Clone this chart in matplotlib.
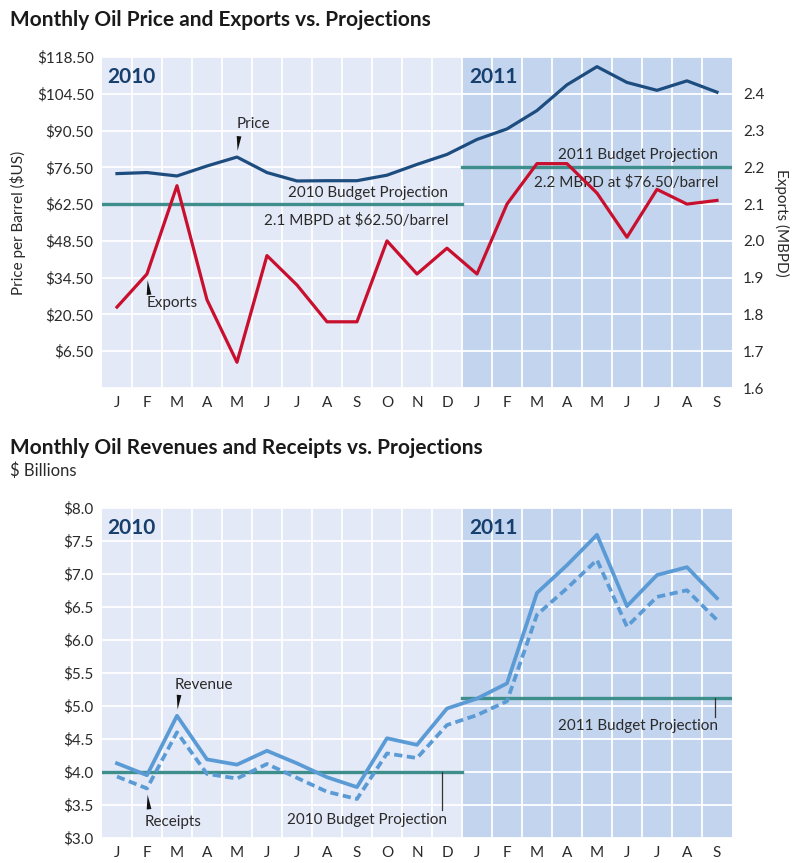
import matplotlib
matplotlib.use("Agg")
import matplotlib.pyplot as plt

plt.rcParams['font.family'] = ['Lato', 'DejaVu Sans']

months = ["J", "F", "M", "A", "M", "J", "J", "A", "S", "O", "N", "D",
          "J", "F", "M", "A", "M", "J", "J", "A", "S"]

price = [74.1, 74.5, 73.2, 77.0, 80.4, 74.5, 71.3, 71.4, 71.4, 73.5, 77.6, 81.4,
         87.1, 91.1, 98.1, 107.9, 114.8, 108.8, 105.8, 109.4, 105.1]
exports = [1.82, 1.91, 2.15, 1.84, 1.67, 1.96, 1.88, 1.78, 1.78, 2.00, 1.91, 1.98,
           1.91, 2.10, 2.21, 2.21, 2.13, 2.01, 2.14, 2.10, 2.11]

revenue = [4.13, 3.95, 4.85, 4.19, 4.11, 4.32, 4.13, 3.92, 3.77, 4.51, 4.41, 4.96,
           5.11, 5.34, 6.71, 7.13, 7.59, 6.51, 6.98, 7.10, 6.63]
receipts = [3.93, 3.75, 4.60, 3.97, 3.90, 4.12, 3.91, 3.70, 3.59, 4.28, 4.21, 4.71,
            4.86, 5.07, 6.38, 6.78, 7.21, 6.20, 6.65, 6.75, 6.30]

price_ticks = [6.5, 20.5, 34.5, 48.5, 62.5, 76.5, 90.5, 104.5, 118.5]
export_ticks = [1.6, 1.7, 1.8, 1.9, 2.0, 2.1, 2.2, 2.3, 2.4]
rev_ticks = [3.0, 3.5, 4.0, 4.5, 5.0, 5.5, 6.0, 6.5, 7.0, 7.5, 8.0]

budget_price = {"2010": 62.5, "2011": 76.5}
budget_rev = {"2010": 4.0, "2011": 5.12}

BG10 = "#e3e9f7"
BG11 = "#c3d4ee"
TEAL = "#3e8e8c"
NAVY = "#1d4c7f"
RED = "#c8102e"
LBLUE = "#5b9bd5"
YEARC = "#173f6e"
TXT = "#2a2a2a"
FS = 11

x = list(range(len(months)))
n10 = 12


def setup_panel(ax, yticks, ylim, fmt):
    ax.set_facecolor(BG10)
    ax.axvspan(n10 - 0.5, len(months) - 0.5, color=BG11, zorder=0)
    ax.set_xlim(-0.5, len(months) - 0.5)
    ax.set_ylim(*ylim)
    for k in range(1, len(months)):
        ax.axvline(k - 0.5, color="white", lw=1.3, zorder=1)
    step = yticks[1] - yticks[0]
    yy = ylim[0]
    while yy <= ylim[1] + 1e-6:
        ax.axhline(yy, color="white", lw=1.3, zorder=1)
        yy += step
    ax.set_yticks(yticks)
    ax.set_yticklabels([fmt(v) for v in yticks])
    ax.set_xticks(x)
    ax.set_xticklabels(months)
    ax.tick_params(length=0, labelsize=FS, colors=TXT, pad=6)
    for s in ax.spines.values():
        s.set_visible(False)
    ax.text(0.009, 0.94, "2010", transform=ax.transAxes, fontsize=15,
            fontweight="bold", color=YEARC, va="center")
    ax.text(n10 - 0.27, 0.94, "2011", transform=ax.get_xaxis_transform(), fontsize=15,
            fontweight="bold", color=YEARC, va="center")


def pointer(ax, xy, down):
    # small black wedge pointing at a line, offsets in points
    sign = -1 if down else 1
    ax.annotate("", xy=xy, xytext=(1.5, sign * 15), textcoords="offset points",
                arrowprops=dict(arrowstyle="wedge,tail_width=0.34,shrink_factor=0.5",
                                color="#111111", lw=0, shrinkA=0, shrinkB=4.5),
                zorder=6)


fig = plt.figure(figsize=(8.08, 8.63), dpi=100)

# ---- top panel
ax1 = fig.add_axes([0.1262, 0.5504, 0.7797, 0.3836])
setup_panel(ax1, price_ticks, (-7.5, 118.5), lambda v: f"${v:.2f}")
ax1.set_ylabel("Price per Barrel ($US)", fontsize=FS, color=TXT, labelpad=8)
ax1.plot([-0.5, n10 - 0.5], [budget_price["2010"]] * 2, color=TEAL, lw=2.4, zorder=3)
ax1.plot([n10 - 0.5, len(months) - 0.5], [budget_price["2011"]] * 2, color=TEAL, lw=2.4, zorder=3)
ax1.plot(x, price, color=NAVY, lw=2.3, zorder=4)

ax2 = ax1.twinx()
ax2.set_ylim(1.6, 2.5)
ax2.set_yticks(export_ticks)
ax2.set_yticklabels([f"{v:.1f}" for v in export_ticks])
ax2.tick_params(length=0, labelsize=FS, colors=TXT, pad=8)
for s in ax2.spines.values():
    s.set_visible(False)
ax2.set_ylabel("Exports (MBPD)", fontsize=FS, color=TXT, rotation=270, labelpad=18)
ax2.plot(x, exports, color=RED, lw=2.3, zorder=5)

ax1.text(4.0, 92.8, "Price", fontsize=FS, color=TXT, va="center")
pointer(ax1, (4.0, price[4]), False)
ax2.text(1.0, 1.83, "Exports", fontsize=FS, color=TXT, va="center")
pointer(ax2, (1.0, exports[1]), True)

ax1.text(11.05, 66.8, "2010 Budget Projection", fontsize=FS, color=TXT,
         ha="right", va="center")
ax1.text(11.05, 56.2, "2.1 MBPD at $62.50/barrel", fontsize=FS, color=TXT,
         ha="right", va="center")
ax1.text(20.05, 81.0, "2011 Budget Projection", fontsize=FS, color=TXT,
         ha="right", va="center")
ax1.text(20.05, 70.8, "2.2 MBPD at $76.50/barrel", fontsize=FS, color=TXT,
         ha="right", va="center")

fig.text(0.012, 0.977, "Monthly Oil Price and Exports vs. Projections", fontsize=15,
         fontweight="bold", color="#1a1a1a", va="center")

# ---- bottom panel
ax3 = fig.add_axes([0.1262, 0.029, 0.7797, 0.3827])
setup_panel(ax3, rev_ticks, (3.0, 8.0), lambda v: f"${v:.1f}")
ax3.plot([-0.5, n10 - 0.5], [budget_rev["2010"]] * 2, color=TEAL, lw=2.4, zorder=3)
ax3.plot([n10 - 0.5, len(months) - 0.5], [budget_rev["2011"]] * 2, color=TEAL, lw=2.4, zorder=3)
ax3.plot(x, revenue, color=LBLUE, lw=2.7, zorder=4)
ax3.plot(x, receipts, color=LBLUE, lw=2.7, ls=(0, (2.2, 1.2)), zorder=4)

ax3.text(1.93, 5.32, "Revenue", fontsize=FS, color=TXT, va="center")
pointer(ax3, (2.0, revenue[2]), False)
ax3.text(0.93, 3.24, "Receipts", fontsize=FS, color=TXT, va="center")
pointer(ax3, (1.0, receipts[1]), True)

ax3.plot([10.85, 10.85], [budget_rev["2010"], 3.42], color="#333333", lw=0.9, zorder=3)
ax3.text(11.0, 3.27, "2010 Budget Projection", fontsize=FS, color=TXT,
         ha="right", va="center")
ax3.plot([19.93, 19.93], [budget_rev["2011"], 4.83], color="#333333", lw=0.9, zorder=3)
ax3.text(20.05, 4.7, "2011 Budget Projection", fontsize=FS, color=TXT,
         ha="right", va="center")

fig.text(0.012, 0.481, "Monthly Oil Revenues and Receipts vs. Projections", fontsize=15,
         fontweight="bold", color="#1a1a1a", va="center")
fig.text(0.012, 0.455, "$ Billions", fontsize=12, color=TXT, va="center")

fig.savefig("out.png", dpi=100)
